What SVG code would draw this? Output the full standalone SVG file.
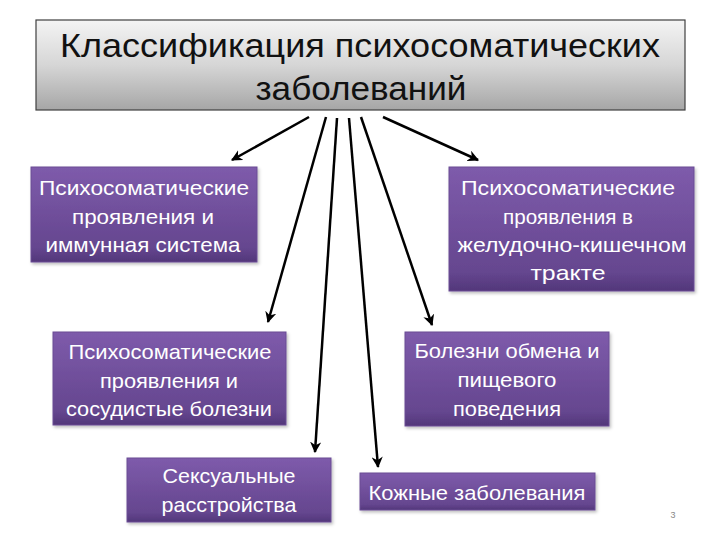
<svg xmlns="http://www.w3.org/2000/svg" width="720" height="540" viewBox="0 0 720 540">
<defs>
<linearGradient id="gTitle" x1="0" y1="0" x2="0" y2="1">
<stop offset="0" stop-color="#f4f4f4"/>
<stop offset="0.5" stop-color="#d6d6d6"/>
<stop offset="1" stop-color="#a6a6a6"/>
</linearGradient>
<linearGradient id="gBox" x1="0" y1="0" x2="0" y2="1">
<stop offset="0" stop-color="#7e5bab"/>
<stop offset="0.85" stop-color="#65468f"/>
<stop offset="1" stop-color="#52377a"/>
</linearGradient>
<filter id="sh" x="-10%" y="-10%" width="125%" height="130%">
<feDropShadow dx="1.5" dy="2" stdDeviation="1.5" flood-color="#000" flood-opacity="0.25"/>
</filter>
<marker id="ah" viewBox="0 0 10 10" refX="9" refY="5" markerWidth="4.5" markerHeight="4.5" orient="auto" markerUnits="strokeWidth">
<path d="M0,0 L10,5 L0,10 L3,5 Z" fill="#000"/>
</marker>
</defs>
<style>
.box{fill:url(#gBox);stroke:#6a4c94;stroke-width:1;filter:url(#sh)}
.t{font-family:"Liberation Sans",Arial,sans-serif;font-size:21px;fill:#ffffff;text-anchor:middle}
.title{font-family:"Liberation Sans",Arial,sans-serif;font-size:33px;fill:#111;text-anchor:middle}
.c{stroke:#000;stroke-width:2.5;fill:none;marker-end:url(#ah)}
</style>
<rect width="720" height="540" fill="#ffffff"/>
<g id="title">
<rect x="36" y="20" width="649" height="90" fill="url(#gTitle)" stroke="#404040" stroke-width="1.2"/>
<text class="title" x="360" y="57" textLength="600" lengthAdjust="spacingAndGlyphs">Классификация психосоматических</text>
<text class="title" x="361" y="100" textLength="211" lengthAdjust="spacingAndGlyphs">заболеваний</text>
</g>
<g id="connectors">
<line class="c" x1="309" y1="117" x2="232" y2="160"/>
<line class="c" x1="326" y1="117" x2="268" y2="322"/>
<line class="c" x1="337" y1="118" x2="315" y2="452"/>
<line class="c" x1="349" y1="118" x2="378" y2="467"/>
<line class="c" x1="361" y1="117" x2="432" y2="325"/>
<line class="c" x1="383" y1="117" x2="478" y2="160"/>
</g>
<g id="n1">
<rect class="box" x="31" y="167" width="226" height="95"/>
<text class="t" x="144" y="195" textLength="210" lengthAdjust="spacingAndGlyphs">Психосоматические</text>
<text class="t" x="143" y="224" textLength="142" lengthAdjust="spacingAndGlyphs">проявления и</text>
<text class="t" x="143" y="252" textLength="195" lengthAdjust="spacingAndGlyphs">иммунная система</text>
</g>
<g id="n2">
<rect class="box" x="449" y="167" width="245" height="124"/>
<text class="t" x="568" y="195" textLength="214" lengthAdjust="spacingAndGlyphs">Психосоматические</text>
<text class="t" x="568" y="224" textLength="130" lengthAdjust="spacingAndGlyphs">проявления в</text>
<text class="t" x="572" y="252" textLength="229" lengthAdjust="spacingAndGlyphs">желудочно-кишечном</text>
<text class="t" x="568" y="280" textLength="75" lengthAdjust="spacingAndGlyphs">тракте</text>
</g>
<g id="n3">
<rect class="box" x="53" y="332" width="233" height="93"/>
<text class="t" x="170" y="359" textLength="203" lengthAdjust="spacingAndGlyphs">Психосоматические</text>
<text class="t" x="169" y="388" textLength="138" lengthAdjust="spacingAndGlyphs">проявления и</text>
<text class="t" x="169" y="416" textLength="206" lengthAdjust="spacingAndGlyphs">сосудистые болезни</text>
</g>
<g id="n4">
<rect class="box" x="405" y="332" width="204" height="94"/>
<text class="t" x="507" y="358" textLength="185" lengthAdjust="spacingAndGlyphs">Болезни обмена и</text>
<text class="t" x="507" y="387" textLength="99" lengthAdjust="spacingAndGlyphs">пищевого</text>
<text class="t" x="507" y="416" textLength="108" lengthAdjust="spacingAndGlyphs">поведения</text>
</g>
<g id="n5">
<rect class="box" x="127" y="458" width="204" height="64"/>
<text class="t" x="229" y="483" textLength="133" lengthAdjust="spacingAndGlyphs">Сексуальные</text>
<text class="t" x="229" y="512" textLength="135" lengthAdjust="spacingAndGlyphs">расстройства</text>
</g>
<g id="n6">
<rect class="box" x="360" y="473" width="235" height="37"/>
<text class="t" x="477" y="500" textLength="217" lengthAdjust="spacingAndGlyphs">Кожные заболевания</text>
</g>
<text x="673" y="518" font-family="Liberation Sans, Arial, sans-serif" font-size="9" fill="#888" text-anchor="middle">3</text>
</svg>
